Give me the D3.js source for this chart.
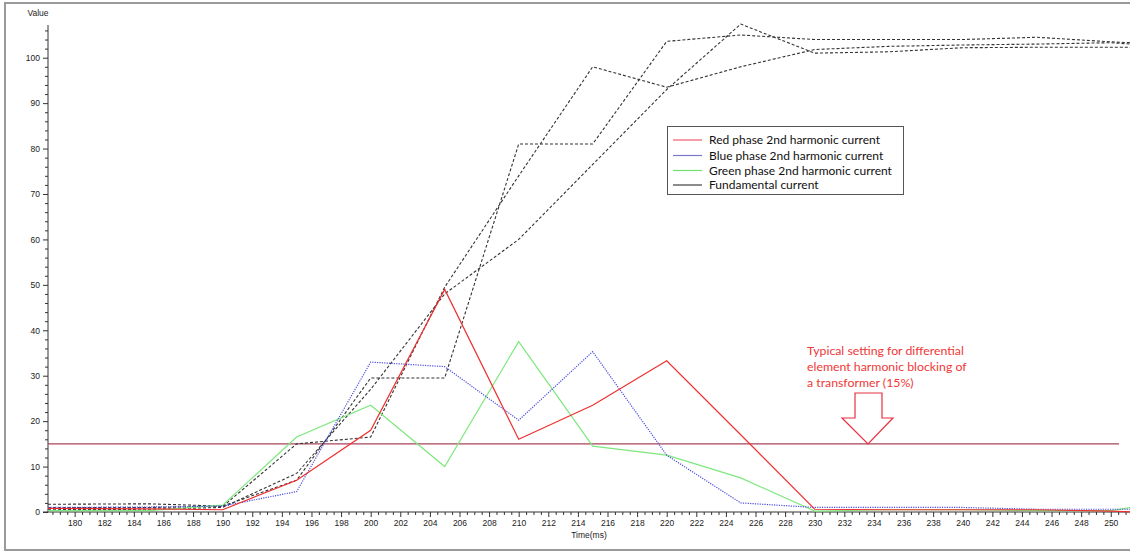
<!DOCTYPE html>
<html><head><meta charset="utf-8">
<script src="https://cdn.jsdelivr.net/npm/d3@7"></script>
<style>
body{margin:0;background:#fff;}
svg{display:block;}
</style></head>
<body>
<svg id="chart" width="1130" height="552"></svg>
<script>
// ---- data ----
const times = [178.2, 185, 190, 195, 200, 205, 210, 215, 220, 225, 230, 235, 240, 245, 250, 251.4];
const redH   = [0.8, 0.7, 0.5, 7, 18, 49, 16, 23.5, 33.3, 17, 0.6, 0.5, 0.5, 0.5, 0.2, 0];
const blueH  = [1.0, 1.1, 1.3, 4.5, 33, 32, 20.2, 35.3, 12.5, 2, 1.0, 1.0, 1.0, 0.6, 0.6, 0.6];
const greenH = [0.3, 0.3, 1.5, 16.5, 23.5, 10, 37.5, 14.5, 12.5, 7.5, 0.2, 0.5, 0.5, 0.3, 0.3, 1.0];
const fundA  = [1.7, 1.8, 1.3, 7, 29.5, 29.5, 81, 81, 103.6, 105, 104, 104, 104, 104.5, 103.5, 103.3];
const fundB  = [1.0, 1.0, 1.2, 15, 16.5, 49.5, 74, 98, 93.5, 98, 101.8, 102.5, 102.8, 103, 103.3, 103];
const fundC  = [0.5, 0.6, 1.0, 8.5, 27, 48, 60, 76.5, 93, 107.4, 101, 101.3, 102.2, 102.3, 102.3, 102.3];
const threshold = 15;
const legendLabels = ["Red phase 2nd harmonic current", "Blue phase 2nd harmonic current",
                      "Green phase 2nd harmonic current", "Fundamental current"];
const annotationLines = ["Typical setting for differential", "element harmonic blocking of", "a transformer (15%)"];
const xMajorTicks = d3.range(180, 251, 2);
const yMajorTicks = d3.range(0, 101, 10);

// ---- layout ----
const svg = d3.select("#chart");
const L = 48, R = 1130, T = 25, B = 512;
const x = d3.scaleLinear().domain([178.2, 251.3]).range([L, R]);
const y = d3.scaleLinear().domain([0, 107.2]).range([B, T]);

// frame
svg.append("rect").attr("x", 5).attr("y", 3).attr("width", 1140).attr("height", 547)
  .attr("fill", "none").attr("stroke", "#9a9a9a").attr("stroke-width", 2);

const font = "'Liberation Sans', Arial, sans-serif";

// y axis
const yAxis = svg.append("g").attr("transform", `translate(${L},0)`)
  .call(d3.axisLeft(y).tickValues(yMajorTicks).tickSize(5).tickPadding(3).tickFormat(d3.format("d")));
yAxis.select(".domain").remove();
yAxis.append("line").attr("x1", 0).attr("x2", 0).attr("y1", T).attr("y2", B).attr("stroke", "#333");
svg.append("g").attr("transform", `translate(${L},0)`)
  .call(d3.axisLeft(y).tickValues(d3.range(0, 107, 2).filter(v => v % 10 !== 0)).tickSize(3).tickFormat(""))
  .select(".domain").remove();

// x axis
const xAxis = svg.append("g").attr("transform", `translate(0,${B})`)
  .call(d3.axisBottom(x).tickValues(xMajorTicks).tickSize(5).tickPadding(3).tickFormat(d3.format("d")));
xAxis.select(".domain").remove();
xAxis.append("line").attr("x1", L - 5).attr("x2", R).attr("y1", 0).attr("y2", 0).attr("stroke", "#333");
svg.append("g").attr("transform", `translate(0,${B})`)
  .call(d3.axisBottom(x).tickValues(d3.range(178.5, 251.3, 0.5).filter(v => v % 2 !== 0)).tickSize(3).tickFormat(""))
  .select(".domain").remove();

svg.selectAll(".tick line").attr("stroke", "#333");
svg.selectAll(".tick text").attr("font-family", font).attr("font-size", 8.5).attr("fill", "#222");

svg.append("text").attr("x", 38).attr("y", 16).attr("text-anchor", "middle")
  .attr("font-family", font).attr("font-size", 8.5).attr("fill", "#222").text("Value");
svg.append("text").attr("x", 589).attr("y", 538).attr("text-anchor", "middle")
  .attr("font-family", font).attr("font-size", 8.5).attr("fill", "#222").text("Time(ms)");

// clip
svg.append("clipPath").attr("id", "plot").append("rect")
  .attr("x", L).attr("y", 0).attr("width", R - L).attr("height", B + 1);

const line = d3.line().x((d, i) => x(times[i])).y(d => y(d));
const g = svg.append("g").attr("clip-path", "url(#plot)");

// threshold
g.append("line").attr("x1", x(178.2)).attr("x2", 1119).attr("y1", y(threshold)).attr("y2", y(threshold))
  .attr("stroke", "#a8455a").attr("stroke-width", 1.4);

const series = [
  {v: fundA, c: "#333", w: 1.1, dash: "3,2"},
  {v: fundB, c: "#333", w: 1.1, dash: "3,2"},
  {v: fundC, c: "#333", w: 1.1, dash: "3,2"},
  {v: greenH, c: "#7ee87e", w: 1.2, dash: null},
  {v: blueH, c: "#4a4ae0", w: 1.2, dash: "1.2,1.2"},
  {v: redH, c: "#ee3030", w: 1.2, dash: null},
];
series.forEach(s => {
  g.append("path").attr("d", line(s.v)).attr("fill", "none")
    .attr("stroke", s.c).attr("stroke-width", s.w)
    .attr("stroke-dasharray", s.dash);
});

// legend
const lg = svg.append("g");
lg.append("rect").attr("x", 667.5).attr("y", 126.5).attr("width", 236).attr("height", 68)
  .attr("fill", "#fff").attr("stroke", "#555").attr("stroke-width", 1);
const legendColors = ["#f06070", "#7878c8", "#70e070", "#404040"];
const rowY = [140, 155.5, 170.5, 185];
legendLabels.forEach((lab, i) => {
  lg.append("line").attr("x1", 673).attr("x2", 702).attr("y1", rowY[i]).attr("y2", rowY[i])
    .attr("stroke", legendColors[i]).attr("stroke-width", 1.2);
  lg.append("text").attr("x", 709).attr("y", rowY[i] + 4).attr("font-family", "Lato, 'Noto Sans', sans-serif")
    .attr("font-size", 12).attr("fill", "#111").text(lab);
});

// annotation
annotationLines.forEach((t, i) => {
  svg.append("text").attr("x", 807).attr("y", 355 + i * 16).attr("font-family", "Lato, 'Noto Sans', sans-serif")
    .attr("font-size", 12.3).attr("fill", "#f03838").text(t);
});
const ty = y(threshold);
const arrowPts = [[855, 393], [882, 393], [882, 418], [893, 418], [868, ty], [842, 418], [855, 418]];
svg.append("polygon").attr("points", arrowPts.map(p => p.join(",")).join(" "))
  .attr("fill", "#fff").attr("stroke", "#e83040").attr("stroke-width", 1.2);
</script>
</body></html>
